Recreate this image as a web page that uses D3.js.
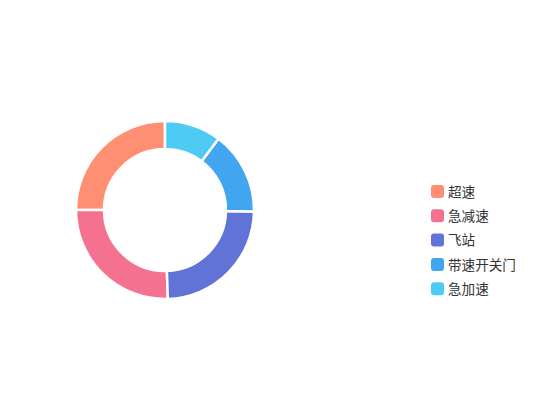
<!DOCTYPE html>
<html>
<head>
<meta charset="utf-8">
<script src="https://cdn.jsdelivr.net/npm/d3@7"></script>
<style>
  body { margin: 0; background: #fff; }
</style>
</head>
<body>
<div id="viz"></div>
<script>
// data
const categories = ["超速", "急减速", "飞站", "带速开关门", "急加速"];
const values = [100, 102, 97, 60, 41];
const colors = ["#fe8f72", "#f4728f", "#6173d6", "#42a5f0", "#4ecbf5"];

const w = 550, h = 420;
const cx = 165, cy = 210, outerR = 89, innerR = 61;

const svg = d3.select("#viz")
    .append("svg")
        .attr("width", w)
        .attr("height", h);

const g = svg.append("g")
    .attr("transform", `translate(${cx},${cy})`);

// first slice ends at the top, laid out counterclockwise
const pie = d3.pie()
    .sort(null)
    .startAngle(2 * Math.PI)
    .endAngle(0)
    .value(function(d) { return d; });

const arc = d3.arc()
    .innerRadius(innerR)
    .outerRadius(outerR);

g.selectAll("path")
    .data(pie(values))
    .enter()
    .append("path")
        .attr("d", arc)
        .attr("fill", function(d, i) { return colors[i]; })
        .attr("stroke", "#fff")
        .attr("stroke-width", 2.5)
        .attr("stroke-linejoin", "round");

// Legend
const legend = svg.append("g")
    .attr("transform", "translate(431,185)");

const item = legend.selectAll("g")
    .data(categories)
    .enter()
    .append("g")
        .attr("transform", function(d, i) { return `translate(0,${i * 24.3})`; });

item.append("rect")
    .attr("width", 13)
    .attr("height", 13)
    .attr("rx", 3)
    .attr("fill", function(d, i) { return colors[i]; });

item.append("text")
    .attr("x", 17)
    .attr("y", 7)
    .attr("dy", "0.35em")
    .attr("font-family", "'Noto Sans CJK SC', sans-serif")
    .attr("font-size", 13.6)
    .attr("fill", "#333")
    .text(function(d) { return d; });
</script>
</body>
</html>
